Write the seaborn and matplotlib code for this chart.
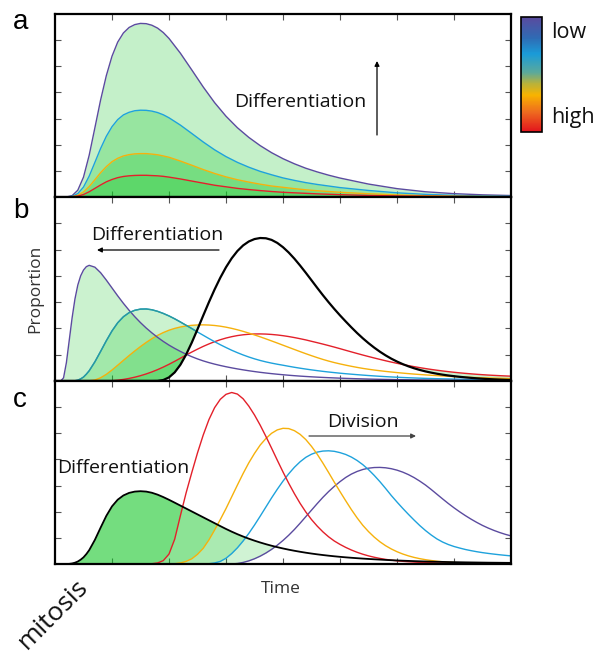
import numpy as np
import matplotlib
matplotlib.use("Agg")
import matplotlib.pyplot as plt
import seaborn as sns
from matplotlib.colors import LinearSegmentedColormap, Normalize
from matplotlib.cm import ScalarMappable
from matplotlib.patches import FancyArrowPatch

# ---------------- data ----------------
x_ticks = [1, 2, 3, 4, 5, 6, 7]
y_ticks = [1, 2, 3, 4, 5, 6]

# panel a : same timing, decreasing amplitude (low -> high)
x_a = [0, 0.1, 0.2, 0.3, 0.4, 0.5, 0.6, 0.7, 0.8, 0.9, 1.0, 1.1, 1.2, 1.3, 1.4, 1.5,
       1.6, 1.7, 1.8, 1.9, 2.0,
       2.2, 2.4, 2.6, 2.8, 3.0, 3.2, 3.4, 3.6, 3.8, 4.0, 4.2, 4.4, 4.6, 4.8, 5.0,
       5.5, 6.0, 6.5, 7.0, 7.5, 8.0]
a_purple = [0, 0, 0, 0.05, 0.26, 0.76, 1.6, 2.65, 3.71, 4.64, 5.385, 5.925, 6.275, 6.485,
            6.595, 6.64, 6.63, 6.57, 6.46, 6.29, 6.065,
            5.5, 4.86, 4.21, 3.61, 3.09, 2.65, 2.28, 1.965, 1.695, 1.465, 1.27, 1.1, 0.96,
            0.835, 0.725,
            0.495, 0.32, 0.2, 0.128, 0.083, 0.056]
a_cyan = [0, 0, 0, 0.025, 0.13, 0.38, 0.8, 1.325, 1.855, 2.32, 2.69, 2.96, 3.14, 3.24,
          3.3, 3.32, 3.315, 3.285, 3.23, 3.145, 3.03,
          2.75, 2.43, 2.105, 1.805, 1.545, 1.325, 1.14, 0.98, 0.85, 0.73, 0.635, 0.55, 0.48,
          0.42, 0.36,
          0.25, 0.16, 0.1, 0.064, 0.042, 0.028]
a_yellow = [0, 0, 0, 0.0125, 0.065, 0.19, 0.4, 0.66, 0.93, 1.16, 1.35, 1.48, 1.57, 1.62,
            1.65, 1.66, 1.66, 1.64, 1.615, 1.57, 1.52,
            1.375, 1.215, 1.05, 0.9, 0.77, 0.66, 0.57, 0.49, 0.42, 0.37, 0.32, 0.275, 0.24,
            0.21, 0.18,
            0.125, 0.08, 0.05, 0.032, 0.021, 0.014]
a_red = [0, 0, 0, 0.006, 0.033, 0.095, 0.2, 0.33, 0.46, 0.58, 0.67, 0.74, 0.785, 0.81,
         0.825, 0.83, 0.83, 0.82, 0.81, 0.79, 0.76,
         0.69, 0.61, 0.53, 0.45, 0.39, 0.33, 0.285, 0.245, 0.21, 0.18, 0.16, 0.14, 0.12,
         0.105, 0.09,
         0.06, 0.04, 0.025, 0.016, 0.01, 0.007]

# panels b and c share one time grid
x_bc = [0, 0.1, 0.15, 0.2, 0.25, 0.3, 0.35, 0.4, 0.45, 0.5, 0.55, 0.6,
        0.7, 0.8, 0.9, 1.0, 1.1, 1.2, 1.3, 1.4, 1.5, 1.6, 1.7, 1.8, 1.9, 2.0,
        2.1, 2.2, 2.3, 2.4, 2.5, 2.6, 2.7, 2.8, 2.9, 3.0,
        3.1, 3.2, 3.3, 3.4, 3.5, 3.6, 3.7, 3.8, 3.9, 4.0,
        4.1, 4.2, 4.3, 4.4, 4.5, 4.6, 4.7, 4.8, 4.9, 5.0,
        5.1, 5.2, 5.3, 5.4, 5.5, 5.6, 5.7, 5.8, 5.9, 6.0,
        6.1, 6.2, 6.3, 6.4, 6.5, 6.6, 6.7, 6.8, 6.9, 7.0,
        7.1, 7.2, 7.3, 7.4, 7.5, 7.6, 7.7, 7.8, 7.9, 8.0]

b_purple = [0, 0, 0.12, 0.7, 1.55, 2.4, 3.12, 3.65, 4.0, 4.22, 4.35, 4.4,
            4.33, 4.12, 3.84, 3.54, 3.24, 2.955, 2.69, 2.445, 2.22, 2.015, 1.83, 1.66, 1.505, 1.365,
            1.24, 1.125, 1.02, 0.925, 0.84, 0.765, 0.7, 0.642, 0.59, 0.543,
            0.5, 0.46, 0.424, 0.39, 0.359, 0.33, 0.304, 0.28, 0.258, 0.238,
            0.219, 0.202, 0.186, 0.172, 0.159, 0.147, 0.136, 0.126, 0.117, 0.108,
            0.1, 0.093, 0.086, 0.08, 0.074, 0.069, 0.064, 0.06, 0.056, 0.052,
            0.049, 0.046, 0.043, 0.04, 0.037, 0.035, 0.032, 0.03, 0.028, 0.026,
            0.024, 0.023, 0.021, 0.02, 0.019, 0.018, 0.017, 0.016, 0.015, 0.014]
b_cyan = [0, 0, 0, 0, 0, 0, 0.01, 0.03, 0.08, 0.15, 0.26, 0.39,
          0.73, 1.125, 1.53, 1.905, 2.215, 2.445, 2.6, 2.69, 2.735, 2.74, 2.71, 2.65, 2.57, 2.475,
          2.365, 2.245, 2.12, 1.995, 1.865, 1.74, 1.615, 1.495, 1.38, 1.273,
          1.17, 1.077, 0.991, 0.913, 0.843, 0.781, 0.727, 0.68, 0.638, 0.6,
          0.56, 0.522, 0.487, 0.454, 0.423, 0.394, 0.367, 0.342, 0.319, 0.297,
          0.277, 0.259, 0.241, 0.224, 0.208, 0.193, 0.179, 0.166, 0.154, 0.143,
          0.133, 0.124, 0.116, 0.108, 0.1, 0.094, 0.088, 0.083, 0.078, 0.073,
          0.069, 0.066, 0.063, 0.06, 0.057, 0.055, 0.052, 0.05, 0.048, 0.046]
b_yellow = [0, 0, 0, 0, 0, 0, 0, 0, 0, 0, 0, 0.005,
            0.038, 0.123, 0.253, 0.418, 0.6, 0.785, 0.968, 1.144, 1.311, 1.467, 1.61, 1.736, 1.843, 1.932,
            2.002, 2.055, 2.093, 2.118, 2.132, 2.136, 2.129, 2.112, 2.085, 2.048,
            2.002, 1.949, 1.889, 1.823, 1.753, 1.68, 1.603, 1.524, 1.444, 1.362,
            1.28, 1.199, 1.118, 1.039, 0.963, 0.89, 0.821, 0.758, 0.701, 0.65,
            0.603, 0.559, 0.518, 0.48, 0.447, 0.417, 0.39, 0.365, 0.342, 0.32,
            0.3, 0.281, 0.263, 0.247, 0.232, 0.218, 0.204, 0.191, 0.179, 0.167,
            0.157, 0.147, 0.138, 0.13, 0.122, 0.116, 0.11, 0.104, 0.098, 0.092]
b_red = [0, 0, 0, 0, 0, 0, 0, 0, 0, 0, 0, 0,
         0, 0, 0.001, 0.011, 0.031, 0.06, 0.098, 0.145, 0.202, 0.269, 0.346, 0.433, 0.53, 0.636,
         0.749, 0.868, 0.987, 1.102, 1.212, 1.316, 1.41, 1.496, 1.57, 1.634,
         1.686, 1.728, 1.758, 1.778, 1.789, 1.791, 1.785, 1.771, 1.751, 1.724,
         1.691, 1.652, 1.609, 1.563, 1.51, 1.458, 1.404, 1.348, 1.29, 1.23,
         1.168, 1.107, 1.047, 0.988, 0.931, 0.876, 0.822, 0.77, 0.72, 0.673,
         0.628, 0.586, 0.546, 0.508, 0.473, 0.44, 0.41, 0.382, 0.356, 0.332,
         0.31, 0.29, 0.272, 0.255, 0.24, 0.226, 0.214, 0.203, 0.193, 0.184]
b_black = [0, 0, 0, 0, 0, 0, 0, 0, 0, 0, 0, 0,
           0, 0, 0, 0, 0, 0, 0, 0, 0, 0, 0, 0.003, 0.038, 0.138,
           0.328, 0.618, 1.003, 1.463, 1.968, 2.488, 2.998, 3.483, 3.93, 4.328,
           4.668, 4.945, 5.158, 5.308, 5.4, 5.44, 5.43, 5.368, 5.253, 5.09,
           4.888, 4.653, 4.393, 4.117, 3.832, 3.545, 3.265, 2.997, 2.741, 2.497,
           2.265, 2.04, 1.825, 1.625, 1.44, 1.27, 1.115, 0.975, 0.85, 0.74,
           0.643, 0.558, 0.484, 0.42, 0.365, 0.318, 0.277, 0.241, 0.21, 0.183,
           0.159, 0.138, 0.119, 0.102, 0.087, 0.074, 0.063, 0.053, 0.045, 0.038]

c_black = [0, 0, 0, 0, 0.005, 0.02, 0.05, 0.095, 0.165, 0.255, 0.38, 0.53,
           0.925, 1.39, 1.84, 2.205, 2.46, 2.6225, 2.72, 2.77, 2.785, 2.77, 2.725, 2.6525, 2.56, 2.456,
           2.346, 2.234, 2.122, 2.01, 1.898, 1.786, 1.674, 1.562, 1.45, 1.3405,
           1.237, 1.1405, 1.051, 0.9685, 0.8925, 0.8225, 0.758, 0.6985, 0.644, 0.594,
           0.548, 0.506, 0.4675, 0.432, 0.3995, 0.37, 0.343, 0.318, 0.295, 0.274,
           0.255, 0.238, 0.222, 0.207, 0.193, 0.18, 0.168, 0.156, 0.145, 0.135,
           0.126, 0.118, 0.11, 0.103, 0.096, 0.09, 0.085, 0.08, 0.075, 0.071,
           0.067, 0.063, 0.06, 0.057, 0.054, 0.051, 0.049, 0.047, 0.045, 0.043]
c_red = [0, 0, 0, 0, 0, 0, 0, 0, 0, 0, 0, 0,
         0, 0, 0, 0, 0, 0, 0, 0, 0, 0, 0.01, 0.04, 0.13, 0.38,
         0.95, 1.85, 2.72, 3.5, 4.25, 4.93, 5.52, 5.98, 6.3, 6.49,
         6.56, 6.5, 6.32, 6.04, 5.7, 5.31, 4.88, 4.43, 3.97, 3.52,
         3.09, 2.69, 2.32, 1.99, 1.7, 1.45, 1.23, 1.04, 0.88, 0.75,
         0.635, 0.535, 0.448, 0.374, 0.311, 0.258, 0.214, 0.177, 0.147, 0.122,
         0.102, 0.086, 0.073, 0.062, 0.053, 0.046, 0.04, 0.035, 0.031, 0.027,
         0.024, 0.021, 0.019, 0.017, 0.015, 0.014, 0.013, 0.012, 0.011, 0.01]
c_yellow = [0, 0, 0, 0, 0, 0, 0, 0, 0, 0, 0, 0,
            0, 0, 0, 0, 0, 0, 0, 0, 0, 0, 0, 0, 0, 0,
            0.01, 0.04, 0.1, 0.2, 0.37, 0.6, 0.92, 1.3, 1.7, 2.12,
            2.57, 3.02, 3.46, 3.87, 4.23, 4.55, 4.8, 5.0, 5.13, 5.19,
            5.18, 5.1, 4.96, 4.76, 4.5, 4.2, 3.86, 3.5, 3.13, 2.77,
            2.42, 2.08, 1.765, 1.48, 1.24, 1.03, 0.85, 0.7, 0.575, 0.47,
            0.383, 0.311, 0.252, 0.204, 0.165, 0.133, 0.107, 0.086, 0.069, 0.056,
            0.046, 0.039, 0.034, 0.031, 0.029, 0.027, 0.026, 0.025, 0.024, 0.023]
c_cyan = [0, 0, 0, 0, 0, 0, 0, 0, 0, 0, 0, 0,
          0, 0, 0, 0, 0, 0, 0, 0, 0, 0, 0, 0, 0, 0,
          0, 0, 0, 0, 0, 0, 0.01, 0.04, 0.1, 0.22,
          0.4, 0.62, 0.88, 1.17, 1.49, 1.83, 2.18, 2.53, 2.86, 3.17,
          3.45, 3.7, 3.91, 4.08, 4.2, 4.28, 4.32, 4.33, 4.31, 4.26,
          4.19, 4.09, 3.96, 3.8, 3.61, 3.39, 3.15, 2.89, 2.62, 2.37,
          2.13, 1.9, 1.68, 1.47, 1.28, 1.11, 0.96, 0.84, 0.745, 0.67,
          0.61, 0.555, 0.51, 0.47, 0.435, 0.405, 0.378, 0.353, 0.331, 0.31]
c_purple = [0, 0, 0, 0, 0, 0, 0, 0, 0, 0, 0, 0,
            0, 0, 0, 0, 0, 0, 0, 0, 0, 0, 0, 0, 0, 0,
            0, 0, 0, 0, 0, 0, 0, 0, 0, 0,
            0, 0.02, 0.06, 0.12, 0.2, 0.3, 0.42, 0.56, 0.72, 0.9,
            1.1, 1.32, 1.56, 1.81, 2.06, 2.31, 2.55, 2.77, 2.97, 3.15,
            3.31, 3.44, 3.54, 3.615, 3.665, 3.69, 3.695, 3.68, 3.645, 3.59,
            3.515, 3.42, 3.305, 3.17, 3.02, 2.85, 2.67, 2.49, 2.315, 2.15,
            1.995, 1.85, 1.715, 1.59, 1.475, 1.375, 1.285, 1.205, 1.135, 1.075]

colorbar_colors = ["#e2131d", "#ee6a1f", "#f8b300", "#b9b23a", "#5aa99c",
                   "#1a9bd8", "#2f6bb4", "#5a4a9e"]
colorbar_pos = [0.0, 0.17, 0.32, 0.42, 0.52, 0.68, 0.82, 1.0]
colorbar_labels = ["low", "high"]

# ---------------- styling ----------------
PURPLE = "#5b4b9f"
CYAN = "#1ea2dc"
TEAL = "#2a9a9c"
YELLOW = "#f6b10c"
RED = "#e3202a"
GREEN = (20 / 255, 199 / 255, 40 / 255)
TXT = "#111111"

sns.set_theme(style="white")
plt.rcParams['font.family'] = ['Open Sans', 'DejaVu Sans']
plt.rcParams['text.color'] = TXT

W, H = 599, 657
fig = plt.figure(figsize=(W / 100, H / 100), dpi=100)


def fx(px):
    return px / W


def fy(py):
    return 1 - py / H


def make_ax(top, bottom):
    ax = fig.add_axes([fx(55), fy(bottom), (511 - 55) / W, (bottom - top) / H])
    ax.set_xlim(0, 8)
    ax.set_ylim(0, 7)
    ax.set_xticks(x_ticks)
    ax.set_yticks(y_ticks)
    ax.tick_params(direction='in', length=4, width=0.8, color='#555555',
                   top=True, right=True, bottom=True, left=True,
                   labelbottom=False, labelleft=False)
    for s in ax.spines.values():
        s.set_visible(True)
        s.set_linewidth(1.6)
        s.set_color('black')
        s.set_zorder(5)
    ax.set_facecolor('white')
    return ax


def line(ax, x, y, color, lw=1.0, z=3):
    sns.lineplot(x=x, y=y, ax=ax, color=color, linewidth=lw, estimator=None,
                 sort=False, legend=False, zorder=z)
    ax.set_xlabel("")
    ax.set_ylabel("")


# ---------- panel a ----------
axa = make_ax(14, 197)
xa = np.array(x_a)
for ys in [a_purple, a_cyan, a_yellow, a_red]:
    axa.fill_between(xa, 0, ys, color=GREEN, alpha=0.25, lw=0, zorder=1)
for ys, col in [(a_purple, PURPLE), (a_cyan, CYAN), (a_yellow, YELLOW), (a_red, RED)]:
    line(axa, x_a, ys, col, 1.0)

# ---------- panel b ----------
axb = make_ax(197, 381)
xb = np.array(x_bc)
bk = np.array(b_black)
for ys in [b_purple, b_cyan, b_yellow, b_red]:
    ya = np.array(ys)
    axb.fill_between(xb, bk, ya, where=ya > bk, interpolate=True,
                     color=GREEN, alpha=0.22, lw=0, zorder=1)
line(axb, x_bc, b_red, RED, 1.0)
line(axb, x_bc, b_yellow, YELLOW, 1.0)
line(axb, x_bc, b_cyan, CYAN, 1.0)
k = int(np.argmax(bk > np.array(b_cyan)))
line(axb, x_bc[:k + 1], b_cyan[:k + 1], TEAL, 1.0, z=3.5)
line(axb, x_bc, b_purple, PURPLE, 1.0)
line(axb, x_bc, b_black, 'black', 1.6, z=4)

# ---------- panel c ----------
axc = make_ax(381, 564)
ck = np.array(c_black)
for ys in [c_red, c_yellow, c_cyan, c_purple]:
    ya = np.array(ys)
    axc.fill_between(xb, ya, ck, where=ck > ya, interpolate=True,
                     color=GREEN, alpha=0.2, lw=0, zorder=1)
line(axc, x_bc, c_purple, PURPLE, 1.0)
line(axc, x_bc, c_cyan, CYAN, 1.0)
line(axc, x_bc, c_yellow, YELLOW, 1.0)
line(axc, x_bc, c_red, RED, 1.0)
line(axc, x_bc, c_black, 'black', 1.3, z=4)

# ---------- colorbar ----------
cmap = LinearSegmentedColormap.from_list("lowhigh", list(zip(colorbar_pos, colorbar_colors)))
cax = fig.add_axes([fx(521), fy(132), 21 / W, 115 / H])
cb = fig.colorbar(ScalarMappable(norm=Normalize(0, 1), cmap=cmap), cax=cax, ticks=[])
cb.outline.set_linewidth(1.2)
cb.outline.set_edgecolor('black')
fig.text(fx(551), fy(38), colorbar_labels[0], fontsize=15.5, ha='left', va='baseline')
fig.text(fx(551), fy(123), colorbar_labels[1], fontsize=15.5, ha='left', va='baseline')

# ---------- texts ----------
lab = dict(fontsize=20, family=['Liberation Sans', 'DejaVu Sans'], ha='center', va='baseline',
           color='black')
fig.text(fx(21), fy(29), 'a', **lab)
fig.text(fx(21), fy(218), 'b', **lab)
fig.text(fx(20), fy(407), 'c', **lab)

fig.text(fx(300.5), fy(107), 'Differentiation', fontsize=14, ha='center', va='baseline')
fig.text(fx(157.5), fy(240.5), 'Differentiation', fontsize=14, ha='center', va='baseline')
fig.text(fx(123.5), fy(473), 'Differentiation', fontsize=14, ha='center', va='baseline')
fig.text(fx(362.5), fy(427), 'Division', fontsize=14, ha='center', va='baseline')

fig.text(fx(35.5), fy(289), 'Proportion', fontsize=12.5, rotation=90, ha='center', va='center',
         color='#333333')
fig.text(fx(281), fy(593), 'Time', fontsize=12.5, ha='center', va='baseline', color='#333333')
fig.text(fx(53), fy(614), 'mitosis', fontsize=19, rotation=45, ha='center', va='center',
         rotation_mode='anchor')

# ---------- arrows ----------
def arrow(p0, p1, color='black'):
    a = FancyArrowPatch((fx(p0[0]), fy(p0[1])), (fx(p1[0]), fy(p1[1])),
                        transform=fig.transFigure, arrowstyle='-|>', mutation_scale=7,
                        lw=0.9, color=color, shrinkA=0, shrinkB=0)
    fig.add_artist(a)

arrow((377, 135), (377, 61))
arrow((219, 250), (97, 250))
arrow((309, 436), (416, 436), color='#444444')

fig.savefig("out.png", dpi=100)
